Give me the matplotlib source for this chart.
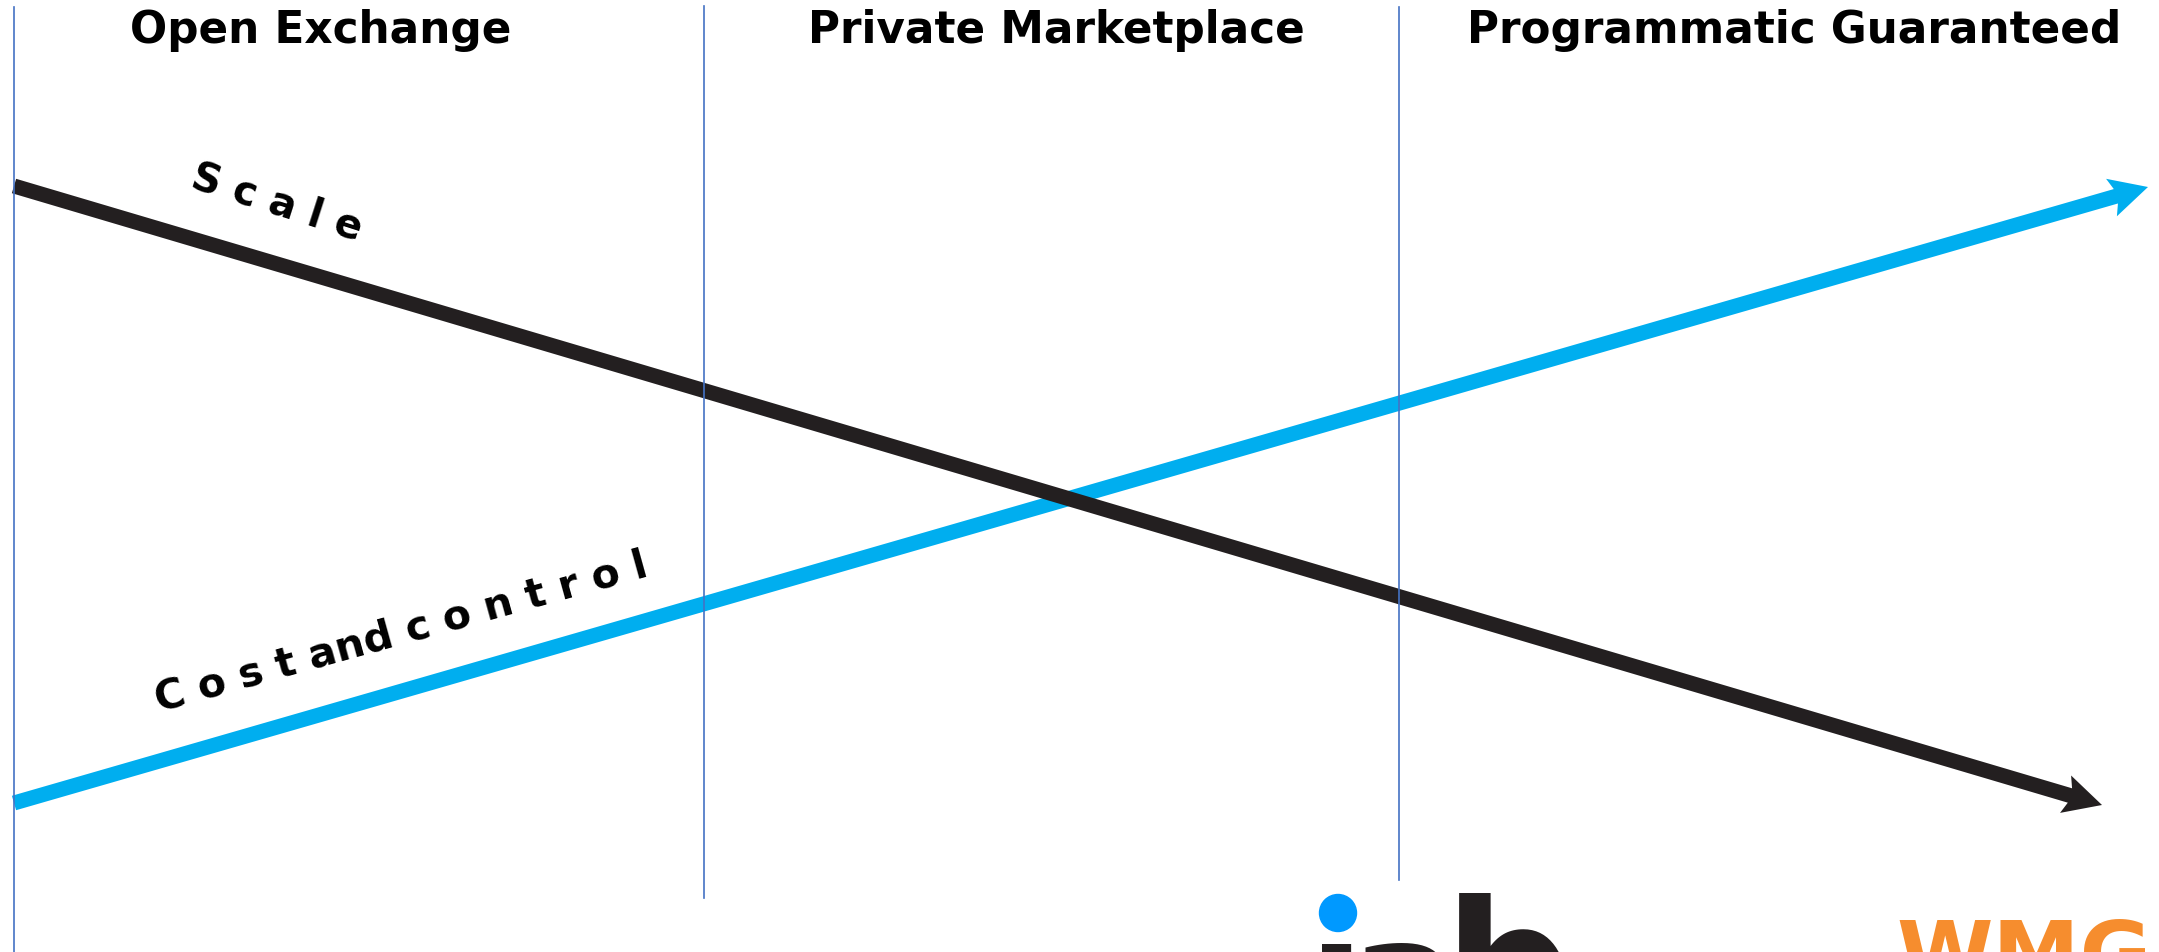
import matplotlib
matplotlib.use("Agg")
import matplotlib.pyplot as plt

# canvas is laid out in pixel units of the reference (2159 x 953, y down)
W, H = 2159, 953

headers = ["Open Exchange", "Private Marketplace", "Programmatic Guaranteed"]
header_x = [321, 1056, 1794]
header_base = 43

divider_x = [14, 704, 1399]
divider_top = [8, 7, 8]
divider_bottom = [953, 899, 881]

scale_start = (14, 187)        # black, falling
scale_tip = (2102, 806)
cost_start = (14, 804)         # blue, rising
cost_tip = (2148, 188)

scale_label = "S c a l e"
scale_label_pos = (277, 203)
cost_label = "C o s t and c o n t r o l"
cost_label_pos = (401, 633)

BLACK = "#231f20"
BLUE = "#00aeef"
DIVIDER = "#4472c4"
IAB_BLUE = "#0099ff"
WMG_ORANGE = "#f68d2e"

fig = plt.figure(figsize=(W / 100, H / 100), dpi=100)
ax = fig.add_axes([0, 0, 1, 1])
ax.set_xlim(0, W); ax.set_ylim(H, 0)
ax.axis("off")

# the two trend arrows (blue under black)
for (x0, y0), (x1, y1), col in [(cost_start, cost_tip, BLUE), (scale_start, scale_tip, BLACK)]:
    ax.arrow(x0, y0, x1 - x0, y1 - y0, width=15, head_width=39, head_length=38,
             length_includes_head=True, overhang=0.12, fc=col, ec="none", lw=0, zorder=2)

# column dividers sit on top of the arrows
for x, y0, y1 in zip(divider_x, divider_top, divider_bottom):
    ax.plot([x, x], [y0, y1], color=DIVIDER, lw=1.2, zorder=3)

for t, x in zip(headers, header_x):
    ax.text(x, header_base, t, ha="center", va="baseline", fontsize=31.5,
            fontweight="bold", family="DejaVu Sans", color="black", zorder=4)

ax.text(*scale_label_pos, scale_label, rotation=-17.8, rotation_mode="anchor",
        ha="center", va="center", fontsize=29, fontweight="bold", color="black")
ax.text(*cost_label_pos, cost_label, rotation=15.5, rotation_mode="anchor",
        ha="center", va="center", fontsize=29.5, fontweight="bold", color="black")

# partial logos along the bottom edge (cut off by the canvas)
ax.text(1308, 1036, "ı", ha="left", va="baseline", fontsize=120, fontweight="bold", color=BLACK)
ax.text(1350, 1033, "a", ha="left", va="baseline", fontsize=115, fontweight="bold", color=BLACK)
ax.text(1444, 1031, "b", ha="left", va="baseline", fontsize=130, fontweight="bold", color=BLACK)
ax.add_patch(plt.Circle((1338, 914), 18.5, color=IAB_BLUE, zorder=5))
ax.text(1896, 984, "WMG", ha="left", va="baseline", fontsize=63, fontweight="heavy",
        color=WMG_ORANGE)

fig.savefig("out.png", dpi=100)
